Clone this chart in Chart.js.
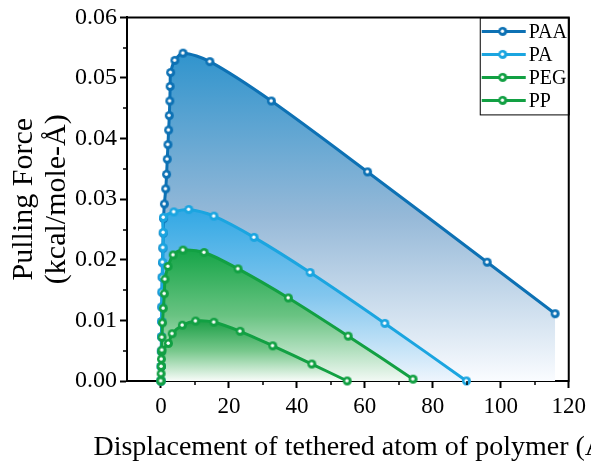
<!DOCTYPE html>
<html><head><meta charset="utf-8">
<script src="https://cdn.jsdelivr.net/npm/chart.js@4/dist/chart.umd.min.js"></script>
<style>html,body{margin:0;padding:0;background:#fff}#wrap{width:591px;height:465px}</style>
</head><body><div id="wrap"><canvas id="c" width="591" height="465"></canvas></div>
<script>
const seriesNames = ['PAA', 'PA', 'PEG', 'PP'];
const xTitle = 'Displacement of tethered atom of polymer (Å)';
const yTitle = ['Pulling Force', '(kcal/mole-Å)'];

const paaX = [0, 0.05, 0.1, 0.15, 0.2, 0.25, 0.3, 0.35, 0.45, 0.55, 0.65, 0.75, 1.0, 1.4, 1.65, 1.85, 2.05, 2.25, 2.45, 2.6, 2.7, 2.85, 4.1, 6.5, 14.4, 32.5, 60.8, 96.0, 116.0];
const paaY = [0, 0.0024, 0.0049, 0.0073, 0.0098, 0.0122, 0.0146, 0.0171, 0.0195, 0.0219, 0.0244, 0.0268, 0.0292, 0.0317, 0.0341, 0.0366, 0.0390, 0.0414, 0.0438, 0.0462, 0.0486, 0.0509, 0.0529, 0.0541, 0.0527, 0.0462, 0.0345, 0.0196, 0.0111];

const paX = [0, 0.05, 0.1, 0.15, 0.2, 0.25, 0.3, 0.4, 0.5, 0.6, 0.7, 0.75, 3.8, 8.2, 15.6, 27.4, 43.9, 65.9, 89.9];
const paY = [0, 0.0024, 0.0049, 0.0073, 0.0098, 0.0122, 0.0147, 0.0171, 0.0196, 0.0220, 0.0245, 0.0270, 0.0279, 0.0283, 0.0272, 0.0237, 0.0179, 0.0095, 0.0000];

const pegX = [0, 0.1, 0.2, 0.3, 0.45, 0.7, 1.0, 1.2, 2.1, 3.6, 6.5, 12.7, 22.7, 37.5, 55.1, 74.2];
const pegY = [0, 0.0024, 0.0048, 0.0072, 0.0096, 0.0120, 0.0144, 0.0168, 0.0189, 0.0208, 0.0216, 0.0212, 0.0185, 0.0137, 0.0074, 0.0003];

const ppX = [0, 0.05, 0.1, 0.15, 0.3, 2.2, 3.3, 6.3, 10.2, 15.6, 23.3, 32.9, 44.4, 54.8];
const ppY = [0, 0.0012, 0.0024, 0.0036, 0.0051, 0.0062, 0.0078, 0.0092, 0.0099, 0.0097, 0.0082, 0.0058, 0.0028, 0];

const xTicks = [0, 20, 40, 60, 80, 100, 120];
const xMinorTicks = [10, 30, 50, 70, 90, 110];
const yTicks = [0, 0.01, 0.02, 0.03, 0.04, 0.05, 0.06];
const yMinorTicks = [0.005, 0.015, 0.025, 0.035, 0.045, 0.055];

const lineColors = ['#0d71b4', '#1ba5e0', '#12a043', '#12a043'];
const fillTop = ['rgb(48,148,205)', 'rgb(50,168,228)', 'rgb(22,165,72)', 'rgb(30,160,72)'];
const fillMid = ['rgb(150,185,216)', 'rgb(130,198,238)', 'rgb(105,195,130)', 'rgb(120,200,140)'];
const fillBot = ['rgb(250,252,255)', 'rgb(238,245,253)', 'rgb(242,249,244)', 'rgb(248,252,249)'];

const FONT = "'Liberation Serif', 'Times New Roman', serif";

function makeMarker(color) {
  const c = document.createElement('canvas');
  c.width = 11; c.height = 11;
  const g = c.getContext('2d');
  g.fillStyle = color;
  g.beginPath(); g.arc(5.5, 5.5, 4.5, 0, Math.PI * 2); g.fill();
  g.fillStyle = '#ffffff';
  g.beginPath(); g.arc(5.2, 5.2, 1.7, 0, Math.PI * 2); g.fill();
  return c;
}

const allX = [paaX, paX, pegX, ppX];
const allY = [paaY, paY, pegY, ppY];
const markers = lineColors.map(makeMarker);

function gradientFor(i) {
  return function (ctx) {
    const chart = ctx.chart;
    const area = chart.chartArea;
    if (!area) return fillTop[i];
    const ys = chart.scales.y;
    const top = ys.getPixelForValue(Math.max(...allY[i]));
    const bot = ys.getPixelForValue(0);
    const g = chart.ctx.createLinearGradient(0, top, 0, bot);
    g.addColorStop(0, fillTop[i]);
    g.addColorStop(0.5, fillMid[i]);
    g.addColorStop(1, fillBot[i]);
    return g;
  };
}

const datasets = seriesNames.map((name, i) => ({
  label: name,
  data: allX[i].map((x, k) => ({ x: x, y: allY[i][k] })),
  borderColor: lineColors[i],
  borderWidth: 3,
  backgroundColor: gradientFor(i),
  fill: 'origin',
  tension: 0.3,
  pointStyle: markers[i],
  pointRadius: 4,
  order: seriesNames.length - i,
  clip: false
}));

const framePlugin = {
  id: 'frameAndLegend',
  afterDraw(chart) {
    const { ctx, chartArea: a, scales } = chart;
    const x = scales.x, y = scales.y;
    ctx.save();
    ctx.strokeStyle = '#000';
    ctx.lineWidth = 2;
    ctx.beginPath();
    ctx.moveTo(a.left - 1, a.top);
    ctx.lineTo(a.right, a.top);
    ctx.lineTo(a.right, a.bottom + 1);
    ctx.stroke();
    ctx.lineWidth = 1.5;
    ctx.beginPath();
    xMinorTicks.forEach(v => {
      const px = Math.round(x.getPixelForValue(v));
      ctx.moveTo(px, a.bottom); ctx.lineTo(px, a.bottom + 4);
    });
    yMinorTicks.forEach(v => {
      const py = Math.round(y.getPixelForValue(v));
      ctx.moveTo(a.left, py); ctx.lineTo(a.left - 4, py);
    });
    ctx.stroke();

    // x-axis title (unconstrained width, like the reference)
    ctx.fillStyle = '#000';
    ctx.font = "28px " + FONT;
    ctx.textAlign = 'center';
    ctx.textBaseline = 'alphabetic';
    ctx.fillText(xTitle, (a.left + a.right) / 2 + 6, 455);

    // legend
    const bw = 89, bh = 97;
    const bx = a.right - bw, by = a.top;
    ctx.lineWidth = 1;
    ctx.strokeRect(bx + 0.5, by + 0.5, bw, bh);
    ctx.font = "20px " + FONT;
    ctx.textBaseline = 'middle';
    ctx.textAlign = 'left';
    chart.data.datasets.forEach((ds, i) => {
      const ly = by + 14 + i * 23;
      ctx.strokeStyle = ds.borderColor;
      ctx.lineWidth = 3;
      ctx.beginPath();
      ctx.moveTo(bx + 2, ly); ctx.lineTo(bx + 46, ly);
      ctx.stroke();
      ctx.drawImage(markers[i], bx + 23 - 5.5, ly - 5.5);
      ctx.fillStyle = '#000';
      ctx.fillText(ds.label, bx + 49, ly + 1);
    });
    ctx.restore();
  }
};

new Chart(document.getElementById('c'), {
  type: 'line',
  data: { datasets: datasets },
  options: {
    responsive: false,
    devicePixelRatio: 1,
    animation: false,
    layout: { padding: { left: 0, top: 15, right: 21, bottom: 0 } },
    plugins: {
      legend: { display: false },
      tooltip: { enabled: false },
      filler: { drawTime: 'beforeDatasetsDraw' }
    },
    scales: {
      x: {
        type: 'linear',
        min: -10, max: 120,
        afterBuildTicks: s => { s.ticks = xTicks.map(v => ({ value: v })); },
        afterFit: s => { s.height = 84; },
        ticks: { font: { family: FONT, size: 23 }, color: '#000', padding: 5, maxRotation: 0, autoSkip: false },
        grid: { drawOnChartArea: false, tickLength: 7, tickWidth: 2, tickColor: '#000' },
        border: { width: 2, color: '#000' },
        title: { display: false, text: xTitle }
      },
      y: {
        min: 0, max: 0.06,
        afterBuildTicks: s => { s.ticks = yTicks.map(v => ({ value: v })); },
        afterFit: s => { s.width = 127; },
        ticks: { font: { family: FONT, size: 24 }, color: '#000', padding: 3, callback: v => Number(v).toFixed(2) },
        grid: { drawOnChartArea: false, tickLength: 7, tickWidth: 2, tickColor: '#000' },
        border: { width: 2, color: '#000' },
        title: {
          display: true,
          text: yTitle,
          font: { family: FONT, size: 30, lineHeight: 1.1 },
          color: '#000',
          padding: { top: 8, bottom: 0 }
        }
      }
    }
  },
  plugins: [framePlugin]
});
</script>
</body></html>
